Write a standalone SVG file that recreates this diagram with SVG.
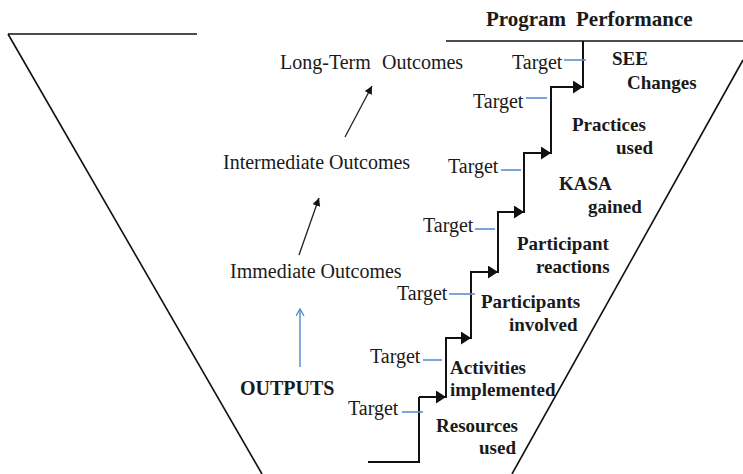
<svg xmlns="http://www.w3.org/2000/svg" width="743" height="474" viewBox="0 0 743 474">
<defs>
<style>
.reg{font-family:"Liberation Serif","Times New Roman",serif;font-size:20px;fill:#1a1a1a}
.bold{font-family:"Liberation Serif","Times New Roman",serif;font-size:19px;font-weight:bold;fill:#1a1a1a}
.title{font-family:"Liberation Serif","Times New Roman",serif;font-size:21px;font-weight:bold;fill:#1a1a1a}
.frame{stroke:#111;stroke-width:1.6;fill:none}
.stair{stroke:#111;stroke-width:2;fill:none}
.step{stroke:#111;stroke-width:2;fill:none;marker-end:url(#bigHead)}
.tick{stroke:#5b8fd0;stroke-width:1.6}
.thin{stroke:#222;stroke-width:1.3;fill:none;marker-end:url(#smallHead)}
</style>
<marker id="bigHead" markerUnits="userSpaceOnUse" markerWidth="11" markerHeight="14" refX="10" refY="6.5" orient="auto">
<path d="M0,0 L10,6.5 L0,13 z" fill="#111"/>
</marker>
<marker id="smallHead" markerUnits="userSpaceOnUse" markerWidth="9" markerHeight="9" refX="8" refY="4" orient="auto">
<path d="M0,0 L8,4 L0,8 z" fill="#111"/>
</marker>
<marker id="openHead" markerUnits="userSpaceOnUse" markerWidth="10" markerHeight="10" refX="7" refY="4" orient="auto">
<path d="M0,0 L7,4 L0,8" fill="none" stroke="#5b8fd0" stroke-width="1.4"/>
</marker>
</defs>

<g id="funnel">
<line class="frame" x1="8" y1="34" x2="197" y2="34"/>
<line class="frame" x1="8" y1="34" x2="262" y2="474"/>
<line class="frame" x1="446" y1="41" x2="743" y2="41"/>
<line class="frame" x1="743" y1="60" x2="512" y2="474"/>
</g>

<g id="connectors">
<path class="stair" d="M368,462 H419 V397"/>
<line class="step" x1="419" y1="397" x2="446" y2="397"/>
<line class="stair" x1="446" y1="398" x2="446" y2="338"/>
<line class="step" x1="445" y1="338" x2="471" y2="338"/>
<line class="stair" x1="471" y1="339" x2="471" y2="272"/>
<line class="step" x1="470" y1="272" x2="498" y2="272"/>
<line class="stair" x1="498" y1="273" x2="498" y2="212"/>
<line class="step" x1="497" y1="212" x2="524" y2="212"/>
<line class="stair" x1="524" y1="213" x2="524" y2="153"/>
<line class="step" x1="523" y1="153" x2="551" y2="153"/>
<line class="stair" x1="551" y1="154" x2="551" y2="87"/>
<line class="step" x1="550" y1="87" x2="583" y2="87"/>
<line class="stair" x1="583" y1="88" x2="583" y2="41"/>

<line class="tick" x1="564" y1="60" x2="586" y2="60"/>
<line class="tick" x1="526" y1="98" x2="547" y2="98"/>
<line class="tick" x1="501" y1="170" x2="521" y2="170"/>
<line class="tick" x1="475" y1="229" x2="495" y2="229"/>
<line class="tick" x1="449" y1="294" x2="475" y2="294"/>
<line class="tick" x1="423" y1="360" x2="442" y2="360"/>
<line class="tick" x1="402" y1="412" x2="423" y2="412"/>

<line class="thin" x1="345" y1="137" x2="372" y2="86"/>
<line class="thin" x1="299" y1="255" x2="319" y2="198"/>
<line x1="300" y1="367" x2="300" y2="309" stroke="#5b8fd0" stroke-width="1.5" marker-end="url(#openHead)"/>
</g>

<g id="title"><text class="title" x="486" y="26">Program<tspan x="576">Performance</tspan></text></g>

<g id="long-term"><text class="reg" x="280" y="69">Long-Term<tspan x="382">Outcomes</tspan></text></g>
<g id="intermediate"><text class="reg" x="223" y="169">Intermediate Outcomes</text></g>
<g id="immediate"><text class="reg" x="230" y="278">Immediate Outcomes</text></g>
<g id="outputs"><text class="reg" x="240" y="395" font-weight="bold">OUTPUTS</text></g>

<g id="targets">
<text class="reg" x="512" y="69">Target</text>
<text class="reg" x="473" y="108">Target</text>
<text class="reg" x="448" y="173">Target</text>
<text class="reg" x="423" y="232">Target</text>
<text class="reg" x="397" y="300">Target</text>
<text class="reg" x="370" y="363">Target</text>
<text class="reg" x="348" y="415">Target</text>
</g>

<g id="see-changes"><text class="bold" x="612" y="65">SEE</text><text class="bold" x="627" y="89">Changes</text></g>
<g id="practices-used"><text class="bold" x="572" y="131">Practices</text><text class="bold" x="616" y="154">used</text></g>
<g id="kasa-gained"><text class="bold" x="559" y="190">KASA</text><text class="bold" x="588" y="213">gained</text></g>
<g id="participant-reactions"><text class="bold" x="517" y="250">Participant</text><text class="bold" x="536" y="273">reactions</text></g>
<g id="participants-involved"><text class="bold" x="481" y="308">Participants</text><text class="bold" x="509" y="331">involved</text></g>
<g id="activities-implemented"><text class="bold" x="450" y="374">Activities</text><text class="bold" x="450" y="396">implemented</text></g>
<g id="resources-used"><text class="bold" x="436" y="432">Resources</text><text class="bold" x="479" y="454">used</text></g>
</svg>
